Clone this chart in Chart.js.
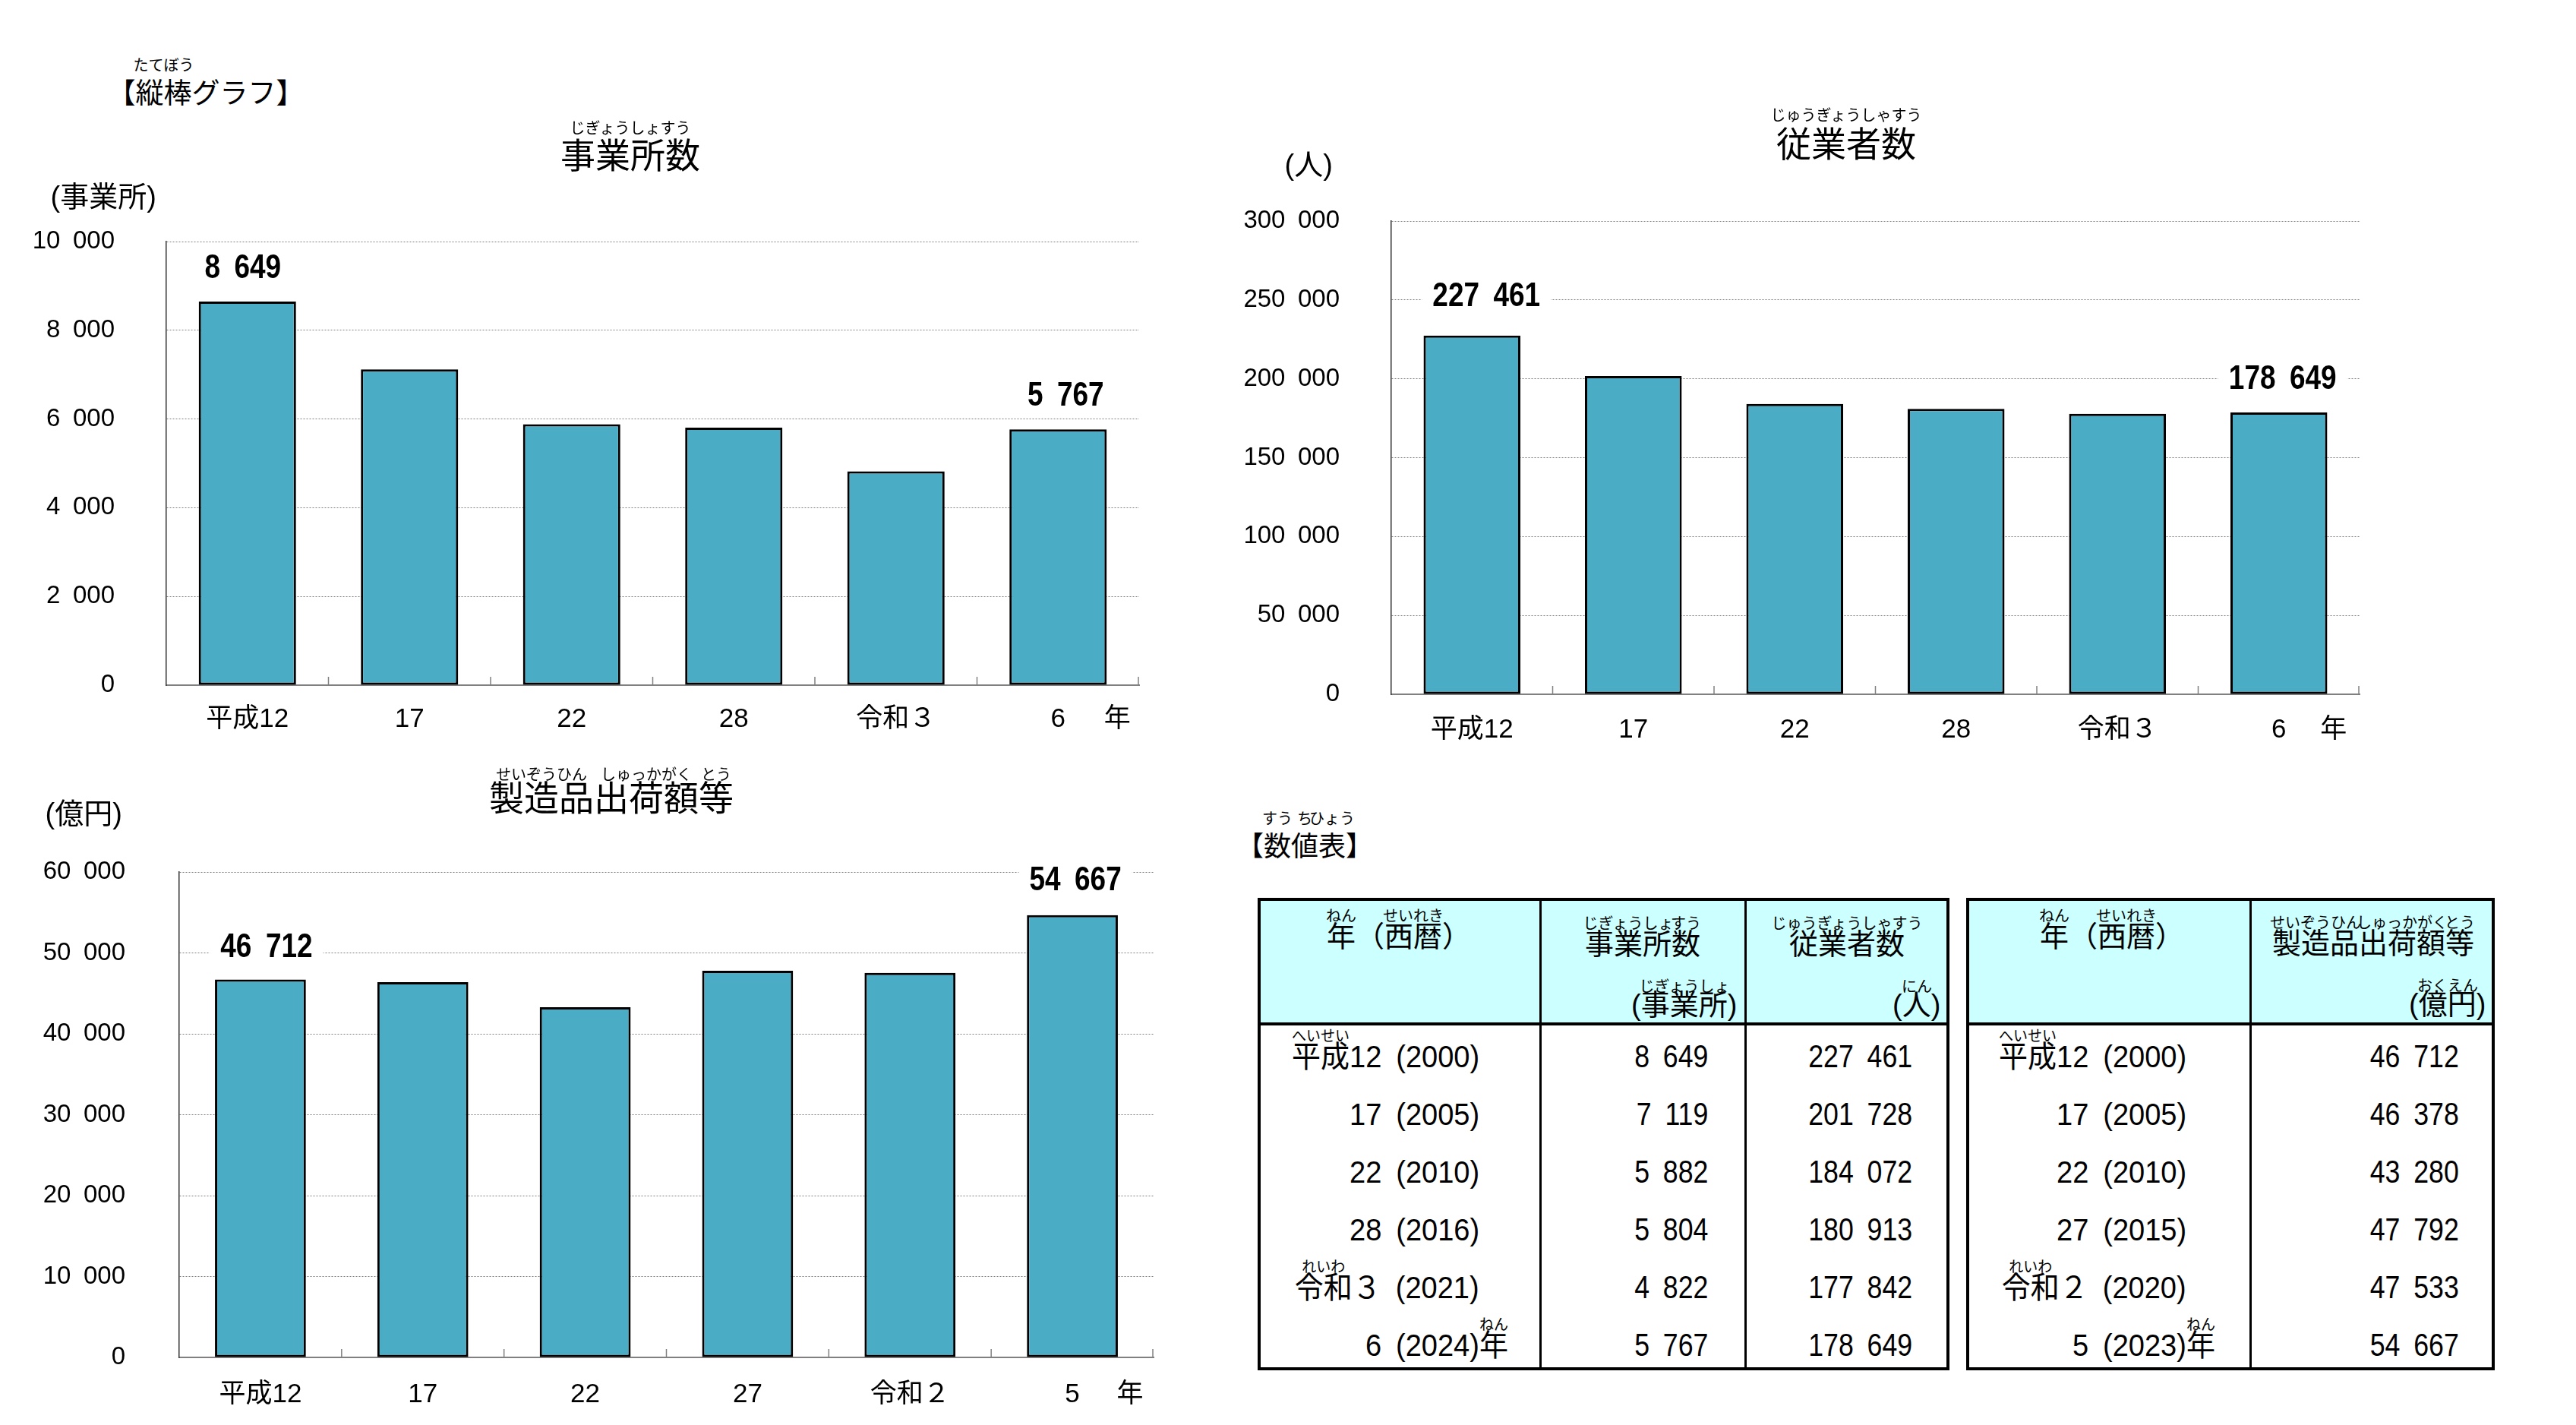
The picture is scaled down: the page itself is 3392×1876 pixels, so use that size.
<!DOCTYPE html>
<html lang="ja">
<head>
<meta charset="utf-8">
<title>事業所数・従業者数・製造品出荷額等</title>
<script src="https://cdn.jsdelivr.net/npm/chart.js@4.4.1/dist/chart.umd.min.js"></script>
<style>
html,body{margin:0;padding:0;background:#fff;}
#page{position:relative;width:3392px;height:1876px;overflow:hidden;background:#fff;
  font-family:"Liberation Sans","Noto Sans CJK JP",sans-serif;color:#000;}
.t{position:absolute;white-space:nowrap;line-height:1;}
.rt{position:absolute;white-space:nowrap;line-height:1;font-family:"Noto Sans CJK JP",sans-serif;transform:translateX(-50%);}
canvas{position:absolute;}
.box{position:absolute;box-sizing:border-box;}
</style>
</head>
<body>
<div id="page"></div>
<script>
// ---------------- data ----------------
const catsA = ['平成12', '17', '22', '28', '令和３', '6'];      // 事業所数・従業者数
const catsB = ['平成12', '17', '22', '27', '令和２', '5'];      // 製造品出荷額等
const adA = ['2000', '2005', '2010', '2016', '2021', '2024'];
const adB = ['2000', '2005', '2010', '2015', '2020', '2023'];
const establishments = [8649, 7119, 5882, 5804, 4822, 5767];          // 事業所
const employees = [227461, 201728, 184072, 180913, 177842, 178649];   // 人
const shipments = [46712, 46378, 43280, 47792, 47533, 54667];         // 億円
const yMaxA1 = 10000, yStepA1 = 2000;
const yMaxA2 = 300000, yStepA2 = 50000;
const yMaxB = 60000, yStepB = 10000;
const eraRuby = {'平成': 'へいせい', '令和': 'れいわ'};
const unitYear = '年';

// ---------------- helpers ----------------
const FONT = '"Liberation Sans", "Noto Sans CJK JP", sans-serif';
const SP = '\u2002';
const fmt = n => String(n).replace(/\B(?=(\d{3})+(?!\d))/g, SP);
const page = document.getElementById('page');

// text line with optional ruby on segments; x/y = anchor, align = left|center|right
function rline(segs, x, y, size, align, rubyDy, sx, rubySize) {
  rubySize = rubySize || 20;
  sx = sx || 1;
  const d = document.createElement('div');
  d.className = 't';
  d.style.fontSize = size + 'px';
  d.style.height = size + 'px';
  d.style.top = (y - size / 2) + 'px';
  d.style.left = '0px';
  const spans = segs.map(s => {
    const sp = document.createElement('span');
    sp.textContent = s[0];
    d.appendChild(sp);
    return sp;
  });
  page.appendChild(d);
  const w = d.offsetWidth;
  let left = x;
  if (align === 'center') left = x - w / 2;
  else if (align === 'right') left = x - w;
  d.style.left = left + 'px';
  if (sx !== 1) {
    d.style.transformOrigin = align === 'right' ? '100% 50%' : (align === 'center' ? '50% 50%' : '0 50%');
    d.style.transform = 'scaleX(' + sx + ')';
  }
  segs.forEach((s, i) => {
    if (!s[1]) return;
    const r = document.createElement('div');
    r.className = 'rt';
    r.textContent = s[1];
    r.style.fontSize = rubySize + 'px';
    r.style.left = (spans[i].offsetLeft + spans[i].offsetWidth / 2) + 'px';
    r.style.top = (size / 2 - rubyDy - rubySize / 2) + 'px';
    d.appendChild(r);
  });
  return d;
}
function rect(x, y, w, h, css) {
  const b = document.createElement('div');
  b.className = 'box';
  b.style.left = x + 'px'; b.style.top = y + 'px';
  b.style.width = w + 'px'; b.style.height = h + 'px';
  Object.assign(b.style, css);
  page.appendChild(b);
  return b;
}

// ---------------- Chart.js plugins ----------------
const valueLabels = {
  id: 'valueLabels',
  afterDatasetsDraw(chart, args, opts) {
    const ctx = chart.ctx;
    const meta = chart.getDatasetMeta(0);
    const vals = chart.data.datasets[0].data;
    const SX = 0.84;
    ctx.save();
    ctx.font = 'bold 44px ' + FONT;
    ctx.textAlign = 'center';
    ctx.textBaseline = 'middle';
    opts.indices.forEach((idx, k) => {
      const bar = meta.data[idx];
      const x = bar.x + opts.dx[k];
      const y = bar.y - opts.dy[k];
      const t = fmt(vals[idx]);
      const w = ctx.measureText(t).width * SX;
      ctx.fillStyle = '#fff';
      ctx.fillRect(x - w / 2 - 14, y - 24, w + 28, 48);
      ctx.save();
      ctx.translate(x, y);
      ctx.scale(SX, 1);
      ctx.fillStyle = '#000';
      ctx.fillText(t, 0, 1);
      ctx.restore();
    });
    ctx.restore();
  }
};
const xAxisMarks = {
  id: 'xAxisMarks',
  afterDraw(chart, args, opts) {
    const xs = chart.scales.x, ctx = chart.ctx, n = chart.data.labels.length;
    ctx.save();
    ctx.strokeStyle = '#808080';
    ctx.lineWidth = 1.5;
    for (let i = 1; i <= n; i++) {
      const px = i < n ? (xs.getPixelForValue(i - 1) + xs.getPixelForValue(i)) / 2 : xs.right - 1;
      ctx.beginPath();
      ctx.moveTo(px, xs.top);
      ctx.lineTo(px, xs.top - 11);
      ctx.stroke();
    }
    ctx.fillStyle = '#000';
    ctx.font = '35px ' + FONT;
    ctx.textAlign = 'center';
    ctx.textBaseline = 'middle';
    ctx.fillText(opts.unit, xs.getPixelForValue(n - 1) + opts.unitDx, xs.top + opts.pad + 21);
    ctx.restore();
  }
};

function barChart(o) {
  const YW = 240, PT = 100, XH = 110, PR = 20;
  const w = YW + (o.x2 - o.x1) + PR, h = PT + (o.y2 - o.y1) + XH;
  const cv = document.createElement('canvas');
  cv.width = w; cv.height = h;
  cv.style.left = (o.x1 - YW) + 'px'; cv.style.top = (o.y1 - PT) + 'px';
  cv.style.width = w + 'px'; cv.style.height = h + 'px';
  page.appendChild(cv);
  return new Chart(cv, {
    type: 'bar',
    data: {
      labels: o.labels,
      datasets: [{
        data: o.values,
        backgroundColor: '#4BACC6',
        borderColor: '#000',
        borderWidth: 3,
        borderSkipped: false,
        barPercentage: o.barPct,
        categoryPercentage: 1
      }]
    },
    options: {
      responsive: false,
      animation: false,
      devicePixelRatio: 1,
      events: [],
      layout: {padding: {top: PT, right: PR, left: 0, bottom: 0}},
      plugins: {
        legend: {display: false},
        tooltip: {enabled: false},
        valueLabels: {indices: [0, o.values.length - 1], dx: o.ldx, dy: o.ldy},
        xAxisMarks: {unit: unitYear, unitDx: o.unitDx, pad: o.xPad}
      },
      scales: {
        x: {
          grid: {display: false, drawTicks: false},
          border: {display: true, color: '#808080', width: 2},
          ticks: {font: {family: FONT, size: 35}, color: '#000', padding: o.xPad, maxRotation: 0, autoSkip: false},
          afterFit(s) { s.height = XH; }
        },
        y: {
          min: 0, max: o.max,
          ticks: {stepSize: o.step, font: {family: FONT, size: 33}, color: '#000', padding: o.yPad,
                  callback: v => fmt(v)},
          grid: {color: '#808080', lineWidth: 1, drawTicks: false},
          border: {display: true, color: '#333', width: 1.5, dash: [2, 2]},
          afterFit(s) { s.width = YW; }
        }
      }
    },
    plugins: [valueLabels, xAxisMarks]
  });
}

// ---------------- charts ----------------
barChart({x1: 219, x2: 1500, y1: 318, y2: 902, labels: catsA, values: establishments,
  max: yMaxA1, step: yStepA1, barPct: 0.6, xPad: 24, yPad: 68, unitDx: 78, ldx: [-6, 10], ldy: [44, 44]});
barChart({x1: 1832, x2: 3107, y1: 291, y2: 914, labels: catsA, values: employees,
  max: yMaxA2, step: yStepA2, barPct: 0.6, xPad: 26, yPad: 68, unitDx: 72, ldx: [19, 5], ldy: [52, 44]});
barChart({x1: 236, x2: 1519, y1: 1148, y2: 1787, labels: catsB, values: shipments,
  max: yMaxB, step: yStepB, barPct: 0.56, xPad: 28, yPad: 71, unitDx: 76, ldx: [8, 4], ldy: [43, 46]});

// ---------------- headings ----------------
rline([['【'], ['縦棒', 'たてぼう'], ['グラフ】']], 271, 123, 37, 'center', 38);
rline([['事業所数', 'じぎょうしょすう']], 830, 205, 46, 'center', 37);
rline([['(事業所)']], 136, 259, 38, 'center', 0);
rline([['従業者数', 'じゅうぎょうしゃすう']], 2431, 190, 46, 'center', 39);
rline([['(人)']], 1723, 217, 38, 'center', 0);
rline([['製造品', 'せいぞうひん'], ['出荷額', 'しゅっかがく'], ['等', 'とう']], 805, 1051, 46, 'center', 32);
rline([['(億円)']], 110, 1071, 38, 'center', 0);
rline([['【'], ['数', 'すう'], ['値', 'ち'], ['表', 'ひょう'], ['】']], 1718, 1115, 36, 'center', 38);

// ---------------- tables ----------------
const TOP = 1182, HEAD = 166, ROW = 76;
function tableFrame(xs) {
  const left = xs[0], right = xs[xs.length - 1], bottom = TOP + HEAD + ROW * 6;
  rect(left, TOP, right - left, HEAD, {background: '#CCFFFF'});
  for (let i = 1; i < xs.length - 1; i++) rect(xs[i] - 1.5, TOP, 3, bottom - TOP, {background: '#000'});
  rect(left, TOP + HEAD - 2, right - left, 4, {background: '#000'});
  rect(left, TOP, right - left, bottom - TOP, {border: '4px solid #000'});
}
function yearLabel(cat, ad, last, xr, y) {
  const era = Object.keys(eraRuby).find(e => cat.startsWith(e));
  const segs = era ? [[era, eraRuby[era]], [cat.slice(era.length) + SP + '(' + ad + ')']]
                   : [[cat + SP + '(' + ad + ')']];
  rline(segs, xr, y, 40, 'right', 28, 0.95);
  if (last) rline([[unitYear, 'ねん']], xr, y, 40, 'left', 28, 0.95);
}
const colsL = [1656, 2028, 2298, 2567];
const colsR = [2589, 2963, 3285];
tableFrame(colsL);
tableFrame(colsR);

// header texts
rline([['年', 'ねん'], ['（'], ['西暦', 'せいれき'], ['）']], 1842, 1233, 38, 'center', 28);
rline([['事業所', 'じぎょうしょ'], ['数', 'すう']], 2163, 1243, 38, 'center', 28);
rline([['('], ['事業所', 'じぎょうしょ'], [')']], 2287, 1323, 38, 'right', 25);
rline([['従業者数', 'じゅうぎょうしゃすう']], 2432, 1243, 38, 'center', 28);
rline([['('], ['人', 'にん'], [')']], 2555, 1323, 38, 'right', 25);
rline([['年', 'ねん'], ['（'], ['西暦', 'せいれき'], ['）']], 2781, 1233, 38, 'center', 28);
rline([['製造品', 'せいぞうひん'], ['出荷額', 'しゅっかがく'], ['等', 'とう']], 3125, 1242, 38, 'center', 28);
rline([['('], ['億円', 'おくえん'], [')']], 3273, 1322, 38, 'right', 25);

// rows
catsA.forEach((c, i) => {
  const y = TOP + HEAD + ROW * i + 43;
  yearLabel(c, adA[i], i === catsA.length - 1, 1948, y);
  rline([[fmt(establishments[i])]], 2249, y, 42, 'right', 0, 0.85);
  rline([[fmt(employees[i])]], 2518, y, 42, 'right', 0, 0.85);
});
catsB.forEach((c, i) => {
  const y = TOP + HEAD + ROW * i + 43;
  yearLabel(c, adB[i], i === catsB.length - 1, 2879, y);
  rline([[fmt(shipments[i])]], 3238, y, 42, 'right', 0, 0.85);
});
</script>
</body>
</html>
